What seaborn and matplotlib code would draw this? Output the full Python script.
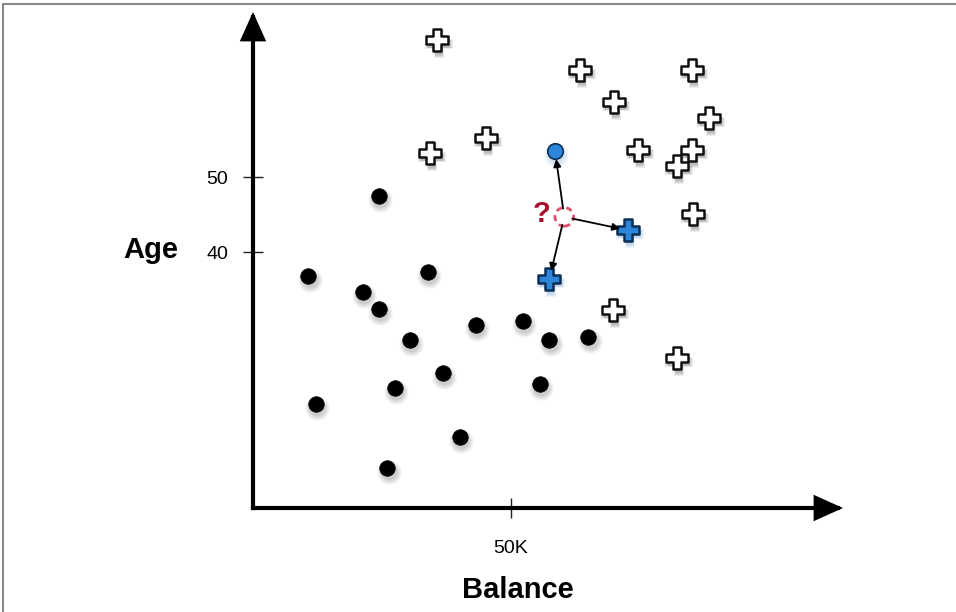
import matplotlib
matplotlib.use("Agg")
import matplotlib.pyplot as plt
import matplotlib.transforms as mtransforms
from matplotlib.lines import Line2D
import pandas as pd
import seaborn as sns

# ─── Data (Balance in K, Age in years) ───────────────────────────────────────

neg_balance = [10.7, 24.4, 21.3, 24.4, 33.9, 30.4, 43.2, 52.3, 57.4, 64.9,
               36.8, 27.5, 55.6, 12.2, 40.1, 26.0]
neg_age = [36.8, 47.5, 34.7, 32.4, 37.3, 28.3, 30.3, 30.8, 28.3, 28.7,
           23.9, 21.9, 22.4, 19.7, 15.3, 11.2]

pos_balance = [35.7, 63.4, 85.1, 70.0, 88.4, 45.2, 34.3, 74.6, 85.1, 82.2,
               85.3, 69.8, 82.2]
pos_age = [68.3, 64.3, 64.3, 60.0, 57.9, 55.2, 53.2, 53.6, 53.6, 51.5,
           45.1, 32.3, 25.9]

# the three nearest neighbours of the query point
nn_dot_balance = [58.5]
nn_dot_age = [53.5]
nn_plus_balance = [72.7, 57.4]
nn_plus_age = [42.9, 36.4]

query_balance = [60.3]
query_age = [44.7]

x_ticks = [50]
x_tick_labels = ["50K"]
y_ticks = [40, 50]
y_tick_labels = ["40", "50"]

X_LIM = (0, 114.3)
Y_LIM = (5.9, 72.0)

neg = pd.DataFrame({"balance": neg_balance, "age": neg_age})
pos = pd.DataFrame({"balance": pos_balance, "age": pos_age})
nn_dot = pd.DataFrame({"balance": nn_dot_balance, "age": nn_dot_age})
nn_plus = pd.DataFrame({"balance": nn_plus_balance, "age": nn_plus_age})
query = pd.DataFrame({"balance": query_balance, "age": query_age})

# ─── Figure ──────────────────────────────────────────────────────────────────

sns.set_style("white")
plt.rcParams["font.family"] = ["Liberation Sans", "DejaVu Sans"]
plt.rcParams["text.color"] = "black"
plt.rcParams["axes.labelcolor"] = "black"
plt.rcParams["xtick.color"] = "black"
plt.rcParams["ytick.color"] = "black"

fig = plt.figure(figsize=(9.56, 6.12), dpi=100)
ax = fig.add_axes([253 / 956, 104 / 612, 590 / 956, 496 / 612])
ax.set_xlim(*X_LIM)
ax.set_ylim(*Y_LIM)


def shifted(dx, dy):
    return mtransforms.offset_copy(ax.transData, fig=fig, x=dx, y=dy, units="dots")


PLUS_S = 240
DOT_S = 125

# soft drop shadows
for extra in [0, 50, 110, 180]:
    tr = shifted(1.5, -4)
    sns.scatterplot(data=pos, x="balance", y="age", marker="P", s=PLUS_S + extra,
                    color="black", alpha=0.07, linewidth=0, transform=tr, ax=ax,
                    legend=False, zorder=1)
    sns.scatterplot(data=nn_plus, x="balance", y="age", marker="P", s=PLUS_S + extra,
                    color="#1f6fc0", alpha=0.07, linewidth=0, transform=tr, ax=ax,
                    legend=False, zorder=1)
    sns.scatterplot(data=neg, x="balance", y="age", marker="o", s=DOT_S + extra,
                    color="black", alpha=0.05, linewidth=0, transform=tr, ax=ax,
                    legend=False, zorder=1)
    sns.scatterplot(data=nn_dot, x="balance", y="age", marker="o", s=DOT_S + extra,
                    color="#1f6fc0", alpha=0.05, linewidth=0, transform=tr, ax=ax,
                    legend=False, zorder=1)

# points
sns.scatterplot(data=neg, x="balance", y="age", marker="o", s=DOT_S,
                color="black", edgecolor="black", linewidth=0.5, ax=ax,
                legend=False, zorder=3)
sns.scatterplot(data=pos, x="balance", y="age", marker="P", s=PLUS_S,
                color="white", edgecolor="#111111", linewidth=1.8, ax=ax,
                legend=False, zorder=3)
sns.scatterplot(data=nn_dot, x="balance", y="age", marker="o", s=DOT_S,
                color="#2b86d9", edgecolor="#0d2f55", linewidth=1.2, ax=ax,
                legend=False, zorder=3)
sns.scatterplot(data=nn_plus, x="balance", y="age", marker="P", s=PLUS_S,
                color="#2b86d9", edgecolor="#0d2f55", linewidth=1.8, ax=ax,
                legend=False, zorder=3)
ax.scatter(query["balance"], query["age"], marker="o", s=180,
           facecolor="white", edgecolor="#e0506a", linewidth=2.0,
           linestyle=(0, (2.2, 1.6)), zorder=4)
ax.text(query_balance[0] - 4.4, query_age[0] + 0.4, "?", color="#a5102a",
        fontsize=21, fontweight="bold", ha="center", va="center", zorder=4)

# arrows from the query point to its neighbours
targets = list(zip(nn_dot_balance + nn_plus_balance, nn_dot_age + nn_plus_age))
for tx, ty in targets:
    ax.annotate("", xy=(tx, ty), xytext=(query_balance[0], query_age[0]),
                arrowprops=dict(arrowstyle="-|>", color="black", lw=1.3,
                                shrinkA=6, shrinkB=6, mutation_scale=11),
                zorder=5)

# axes as arrows
for start, end in [((0, 0), (0, 1)), ((0, 0), (1, 0))]:
    ann = ax.annotate("", xy=end, xytext=start, xycoords="axes fraction",
                      textcoords="axes fraction",
                      arrowprops=dict(arrowstyle="-|>,head_length=1.0,head_width=0.45",
                                      color="black", lw=3, shrinkA=0, shrinkB=0,
                                      mutation_scale=16),
                      annotation_clip=False, zorder=6)
    ann.arrow_patch.set_capstyle("projecting")
    ann.arrow_patch.set_joinstyle("miter")

for side in ["top", "right", "left", "bottom"]:
    ax.spines[side].set_visible(False)

ax.set_xticks(x_ticks, labels=x_tick_labels)
ax.set_yticks(y_ticks, labels=y_tick_labels)
ax.tick_params(bottom=True, left=True, direction="inout", length=14, width=1.0,
               color="#222222", labelsize=14)
ax.tick_params(axis="x", pad=16)
ax.tick_params(axis="y", pad=11)

ax.set_xlabel("Balance", fontsize=21, fontweight="bold", va="center")
ax.set_ylabel("Age", fontsize=21, fontweight="bold", rotation=0,
              ha="center", va="center")
ax.xaxis.set_label_coords(0.449, -0.165)
ax.yaxis.set_label_coords(-0.173, 0.520)

# image frame (left and top edges)
fig.add_artist(Line2D([0.003, 0.003], [0, 0.994], transform=fig.transFigure,
                      color="#8a8a8a", lw=1.5))
fig.add_artist(Line2D([0.003, 1], [0.994, 0.994], transform=fig.transFigure,
                      color="#8a8a8a", lw=1.5))

fig.savefig("out.png", dpi=100)
plt.close(fig)
